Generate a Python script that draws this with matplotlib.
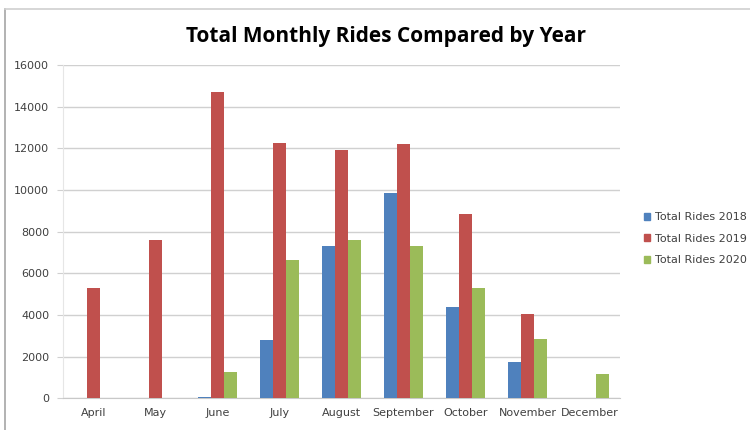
import matplotlib.pyplot as plt
import numpy as np
from matplotlib.patches import Rectangle
from matplotlib.lines import Line2D

# Data
months = ["April", "May", "June", "July", "August", "September",
          "October", "November", "December"]
rides_2018 = [0, 0, 60, 2800, 7300, 9850, 4400, 1750, 0]
rides_2019 = [5300, 7600, 14700, 12250, 11900, 12200, 8850, 4050, 0]
rides_2020 = [0, 0, 1280, 6650, 7600, 7300, 5300, 2830, 1170]
series_names = ["Total Rides 2018", "Total Rides 2019", "Total Rides 2020"]
colors = ["#4f81bd", "#c0504d", "#9bbb59"]

fig = plt.figure(figsize=(7.5, 4.3), dpi=100)
fig.patch.set_facecolor("white")

# Chart frame (left/top edge of the Excel chart area)
fig.add_artist(Line2D([0.007, 0.007], [0.0, 0.978], color="#a6a6a6", lw=1.2))
fig.add_artist(Line2D([0.007, 1.0], [0.978, 0.978], color="#d0d0d0", lw=1.2))

ax = fig.add_axes([0.084, 0.074, 0.743, 0.775])

x = np.arange(len(months))
w = 0.21
for i, (vals, name, c) in enumerate(zip([rides_2018, rides_2019, rides_2020],
                                        series_names, colors)):
    ax.bar(x + (i - 1) * w, vals, width=w, color=c, label=name, zorder=3)

ax.set_xlim(-0.5, len(months) - 0.5)
ax.set_ylim(0, 16000)
ax.set_yticks(range(0, 16001, 2000))
ax.set_xticks(x)
ax.set_xticklabels(months)

ax.grid(axis="y", color="#d0d0d0", lw=1, zorder=0)
for s in ["top", "right"]:
    ax.spines[s].set_visible(False)
ax.spines["left"].set_color("#e6e6e6")
ax.spines["bottom"].set_color("#c8c8c8")
ax.tick_params(axis="y", length=4, color="#d0d0d0", labelsize=8,
               labelcolor="#404040", pad=6)
ax.tick_params(axis="x", length=0, labelsize=8, labelcolor="#404040", pad=7)

fig.text(0.515, 0.914, "Total Monthly Rides Compared by Year",
         ha="center", va="center", fontsize=15, weight="bold",
         family="Open Sans", color="black")

handles = [Rectangle((0, 0), 1, 1, color=c) for c in colors]
fig.legend(handles, series_names, loc="center left",
           bbox_to_anchor=(0.845, 0.445), frameon=False, fontsize=8,
           handlelength=0.6, handleheight=0.6, handletextpad=0.4,
           labelspacing=1.05, labelcolor="#404040")

plt.savefig("out.png", dpi=100)
